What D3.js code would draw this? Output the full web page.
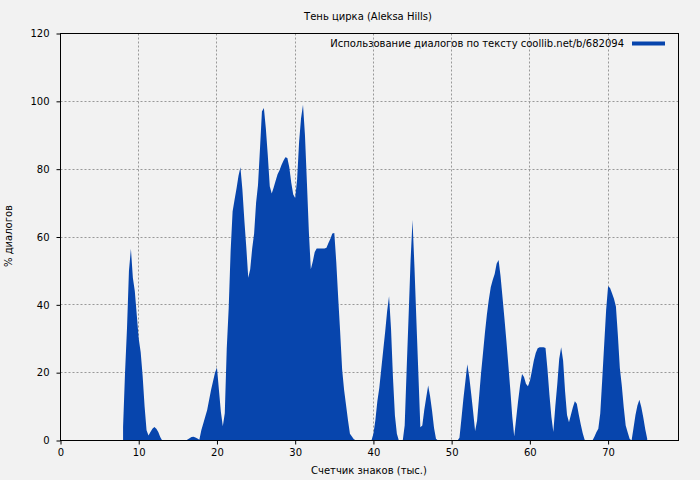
<!DOCTYPE html>
<html>
<head>
<meta charset="utf-8">
<script src="https://cdn.jsdelivr.net/npm/d3@7"></script>
<style>
  body { margin: 0; background: #f2f2f2; }
  text { font-family: "DejaVu Sans", sans-serif; font-size: 10px; fill: #000; }
</style>
</head>
<body>
<div id="chart"></div>
<script>
// chart texts
const chartTitle = 'Тень цирка (Aleksa Hills)';
const xLabel = 'Счетчик знаков (тыс.)';
const yLabel = '% диалогов';
const seriesName = 'Использование диалогов по тексту coollib.net/b/682094';

// axis ticks
const xTicks = [0, 10, 20, 30, 40, 50, 60, 70];
const yTicks = [0, 20, 40, 60, 80, 100, 120];
const xMax = 79;
const yMax = 120;

// samples every 0.25 thousand chars, starting at 8
const xStart = 8;
const xStep = 0.25;
const dialogShare = [
  4, 20, 33, 50, 56.5, 48, 44, 37,
  30, 26, 19, 10, 3, 1.5, 2.5, 3.5,
  4, 3.5, 2.5, 1, 0, 0, 0, 0,
  0, 0, 0, 0, 0, 0, 0, 0,
  0, 0.3, 0.7, 1, 1.1, 0.9, 0.6, 0.2,
  3, 5, 7, 9, 12, 15, 17.5, 20,
  21.5, 15, 8.5, 4.2, 8, 27, 39, 56,
  67.5, 71, 74.3, 78, 80.6, 74, 65, 57,
  48, 50.5, 56.5, 61, 70, 75.4, 86, 97,
  98, 92, 84, 75, 72.8, 74.6, 76.6, 78.5,
  79.7, 81.2, 82.5, 83.5, 83.3, 80.5, 76, 72.5,
  71.5, 77, 88, 95, 99, 90, 76, 61.5,
  50.5, 52.8, 55.6, 56.6, 56.6, 56.6, 56.6, 56.6,
  56.8, 58.2, 59.5, 61, 61.2, 52.7, 42, 32,
  21, 15, 10.5, 6, 2, 1.2, 0.4, 0.1,
  0, 0, 0, 0, 0, 0, 0, 0,
  2, 6, 11.5, 15.5, 21, 26.5, 32, 38,
  42.5, 33, 18.6, 7.4, 2, 0, 0, 0,
  4.5, 21, 36.8, 53, 65, 51, 35, 19.5,
  3.9, 4.4, 9, 12.7, 16.2, 13, 8.7, 3.7,
  0.5, 0, 0, 0, 0, 0, 0, 0,
  0, 0, 0, 0, 0.8, 6.4, 12.2, 17.3,
  22.5, 18.8, 13.8, 8.4, 2.8, 5.8, 12.6, 19.6,
  25.6, 31.6, 37, 41.5, 45.2, 47.3, 49.1, 52.1,
  53.2, 48.5, 42.3, 36, 29.3, 22.2, 15, 7,
  1.2, 6.5, 11.7, 16.3, 19.6, 18.7, 16.7, 16,
  17.5, 20.4, 23.5, 25.8, 27.2, 27.5, 27.5, 27.5,
  27.3, 21, 13.5, 7, 2.5, 10, 16.5, 24,
  27.5, 23.5, 14.5, 7.5, 5.4, 7.6, 9.8, 11.6,
  10.8, 7.7, 4.8, 2.2, 0.2, 0, 0, 0,
  0, 1.1, 2.4, 3.5, 8, 18, 28.3, 38.5,
  45.5, 45, 43.4, 41.8, 39.5, 31, 21.4, 16.2,
  9.8, 4.4, 2.4, 0.5, 0, 3.7, 7.5, 10.3,
  12, 9.8, 6.8, 3.3, 0.5
];

const width = 700, height = 480;
const margin = {top: 33, right: 22, bottom: 40, left: 60};
const innerW = width - margin.left - margin.right;
const innerH = height - margin.top - margin.bottom;
const blue = '#0745ad';

const svg = d3.select('#chart').append('svg')
    .attr('width', width)
    .attr('height', height);

svg.append('rect').attr('width', width).attr('height', height).attr('fill', '#f2f2f2');

const g = svg.append('g').attr('transform', `translate(${margin.left + 0.5}, ${margin.top + 0.5})`);

const x = d3.scaleLinear().domain([0, xMax]).range([0, innerW]);
const y = d3.scaleLinear().domain([0, yMax]).range([innerH, 0]);

// grid
g.selectAll('.vgrid').data(xTicks.slice(1)).enter().append('line')
    .attr('x1', d => Math.round(x(d))).attr('x2', d => Math.round(x(d)))
    .attr('y1', 0).attr('y2', innerH)
    .attr('stroke', '#999').attr('stroke-dasharray', '2,2');
g.selectAll('.hgrid').data(yTicks.slice(1, -1)).enter().append('line')
    .attr('y1', d => Math.round(y(d))).attr('y2', d => Math.round(y(d)))
    .attr('x1', 0).attr('x2', innerW)
    .attr('stroke', '#999').attr('stroke-dasharray', '2,2');

// the series
const points = dialogShare.map((v, i) => ({k: xStart + i * xStep, v: v}));
const area = d3.area()
    .x(d => x(d.k))
    .y0(y(0))
    .y1(d => y(d.v));
g.append('path').datum(points).attr('d', area).attr('fill', blue);

// frame
g.append('rect').attr('width', innerW).attr('height', innerH)
    .attr('fill', 'none').attr('stroke', '#000');

// axes
const xAxis = g.append('g').attr('transform', `translate(0, ${innerH})`)
    .call(d3.axisBottom(x).tickValues(xTicks).tickSize(4).tickPadding(4));
const yAxis = g.append('g')
    .call(d3.axisLeft(y).tickValues(yTicks).tickSize(4).tickPadding(7));
[xAxis, yAxis].forEach(a => {
  a.select('.domain').remove();
  a.selectAll('line').attr('stroke', '#000');
  a.selectAll('text').attr('font-family', '"DejaVu Sans", sans-serif').attr('font-size', 10).attr('fill', '#000');
});

// labels
svg.append('text').attr('x', 368).attr('y', 20).attr('text-anchor', 'middle').text(chartTitle);
svg.append('text').attr('x', 369).attr('y', 474).attr('text-anchor', 'middle').text(xLabel);
svg.append('text').attr('transform', 'translate(12, 236) rotate(-90)')
    .attr('text-anchor', 'middle').text(yLabel);

// legend
svg.append('text').attr('x', 624).attr('y', 47).attr('text-anchor', 'end').text(seriesName);
svg.append('line').attr('x1', 632).attr('x2', 665).attr('y1', 43.5).attr('y2', 43.5)
    .attr('stroke', blue).attr('stroke-width', 4);
</script>
</body>
</html>
